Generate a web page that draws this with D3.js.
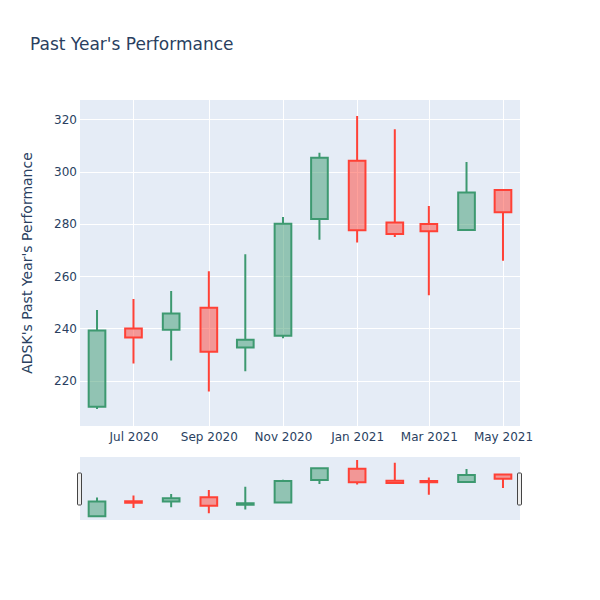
<!DOCTYPE html>
<html>
<head>
<meta charset="utf-8">
<script src="https://cdn.jsdelivr.net/npm/d3@7"></script>
<style>
  html, body { margin: 0; padding: 0; background: #fff; }
  text { font-family: "DejaVu Sans", "Open Sans", sans-serif; }
</style>
</head>
<body>
<svg id="chart" width="600" height="600"></svg>
<script>
// ---- Data (monthly OHLC) ----
const dates  = ["2020-06-01","2020-07-01","2020-08-01","2020-09-01","2020-10-01","2020-11-01",
                "2020-12-01","2021-01-01","2021-02-01","2021-03-01","2021-04-01","2021-05-01"];
const opens  = [210.1, 240.0, 239.5, 247.9, 232.7, 237.2, 281.9, 304.2, 280.5, 280.0, 277.7, 293.0];
const highs  = [247.1, 251.3, 254.3, 261.9, 268.4, 282.6, 307.2, 321.3, 316.2, 286.9, 303.7, 293.3];
const lows   = [209.2, 226.6, 227.8, 215.9, 223.6, 236.3, 273.9, 272.9, 275.0, 252.7, 277.5, 265.9];
const closes = [239.2, 236.6, 245.7, 231.1, 235.7, 280.1, 305.3, 277.6, 276.1, 277.2, 292.0, 284.5];
const yTicks = [220, 240, 260, 280, 300, 320];
const xTickDates = ["2020-07-01","2020-09-01","2020-11-01","2021-01-01","2021-03-01","2021-05-01"];
const xTickLabels = ["Jul 2020","Sep 2020","Nov 2020","Jan 2021","Mar 2021","May 2021"];
const titleText = "Past Year's Performance";
const yTitleText = "ADSK's Past Year's Performance";

const parse = d3.utcParse("%Y-%m-%d");
const data = dates.map((d, i) => ({
  date: parse(d), open: opens[i], high: highs[i], low: lows[i], close: closes[i]
}));

const DAY = 86400000;
const xDomain = [new Date(parse(dates[0]).getTime() - 14 * DAY),
                 new Date(parse(dates[dates.length - 1]).getTime() + 14 * DAY)];
const yDomain = [202.7, 327.4];

const svg = d3.select("#chart");
const textColor = "#2a3f5f";
const bg = "#E5ECF6";
const incLine = "#3D9970", incFill = "rgba(61,153,112,0.5)";
const decLine = "#FF4136", decFill = "rgba(255,65,54,0.5)";

const plot = { left: 80, right: 520, top: 100, bottom: 426 };
const slider = { top: 457, bottom: 520 };

const x = d3.scaleUtc().domain(xDomain).range([plot.left, plot.right]);
const y = d3.scaleLinear().domain(yDomain).range([plot.bottom, plot.top]);
const ys = d3.scaleLinear().domain(yDomain).range([slider.bottom, slider.top]);

// Title
svg.append("text").attr("x", 30).attr("y", 50)
  .attr("font-size", 17).attr("fill", textColor).text(titleText);

// Plot background
svg.append("rect").attr("x", plot.left).attr("y", plot.top)
  .attr("width", plot.right - plot.left).attr("height", plot.bottom - plot.top)
  .attr("fill", bg);

// Grid
const grid = svg.append("g");
grid.selectAll("line.y").data(yTicks).join("line")
  .attr("x1", plot.left).attr("x2", plot.right)
  .attr("y1", d => Math.round(y(d)) + 0.5).attr("y2", d => Math.round(y(d)) + 0.5)
  .attr("stroke", "#fff").attr("stroke-width", 1);
grid.selectAll("line.x").data(xTickDates).join("line")
  .attr("y1", plot.top).attr("y2", plot.bottom)
  .attr("x1", d => Math.round(x(parse(d))) + 0.5).attr("x2", d => Math.round(x(parse(d))) + 0.5)
  .attr("stroke", "#fff").attr("stroke-width", 1);

// Axes via d3
const yAxis = d3.axisLeft(y).tickValues(yTicks).tickSize(0).tickPadding(3);
const gy = svg.append("g").attr("transform", `translate(${plot.left},0)`).call(yAxis);
gy.select(".domain").remove();
gy.selectAll("text").attr("font-size", 12).attr("fill", textColor)
  .attr("font-family", "DejaVu Sans, sans-serif");

const xAxis = d3.axisBottom(x).tickValues(xTickDates.map(parse))
  .tickFormat((d, i) => xTickLabels[i]).tickSize(0).tickPadding(6);
const gx = svg.append("g").attr("transform", `translate(0,${plot.bottom})`).call(xAxis);
gx.select(".domain").remove();
gx.selectAll("text").attr("font-size", 12).attr("fill", textColor)
  .attr("font-family", "DejaVu Sans, sans-serif");

// Y axis title
svg.append("text")
  .attr("transform", `translate(32,${(plot.top + plot.bottom) / 2}) rotate(-90)`)
  .attr("text-anchor", "middle").attr("font-size", 14).attr("fill", textColor)
  .text(yTitleText);

// Candles
const halfW = 6.86 * DAY;
function candlePath(d, ysc) {
  const x0 = x(new Date(d.date.getTime() - halfW));
  const x1 = x(new Date(d.date.getTime() + halfW));
  const xc = x(d.date);
  const top = ysc(Math.max(d.open, d.close));
  const bot = ysc(Math.min(d.open, d.close));
  return `M${x0},${top}H${x1}V${bot}H${x0}Z` +
         `M${xc},${top}V${ysc(d.high)}M${xc},${bot}V${ysc(d.low)}`;
}

function drawCandles(g, ysc) {
  g.selectAll("path").data(data).join("path")
    .attr("d", d => candlePath(d, ysc))
    .attr("fill", d => d.close >= d.open ? incFill : decFill)
    .attr("stroke", d => d.close >= d.open ? incLine : decLine)
    .attr("stroke-width", 2);
}

const gMain = svg.append("g");
drawCandles(gMain, y);

// Range slider
svg.append("rect").attr("x", plot.left).attr("y", slider.top)
  .attr("width", plot.right - plot.left).attr("height", slider.bottom - slider.top)
  .attr("fill", bg);
const defs = svg.append("defs");
defs.append("clipPath").attr("id", "sclip").append("rect")
  .attr("x", plot.left).attr("y", slider.top)
  .attr("width", plot.right - plot.left).attr("height", slider.bottom - slider.top);
const gSlider = svg.append("g").attr("clip-path", "url(#sclip)");
drawCandles(gSlider, ys);

// Slider grabbers
const sh = slider.bottom - slider.top;
[plot.left, plot.right].forEach(px => {
  svg.append("rect")
    .attr("x", px - 2.5).attr("y", slider.top + Math.round(sh / 4))
    .attr("width", 4).attr("height", Math.round(sh / 2))
    .attr("rx", 1).attr("fill", "#eee").attr("stroke", "#444").attr("stroke-width", 1);
});
</script>
</body>
</html>
